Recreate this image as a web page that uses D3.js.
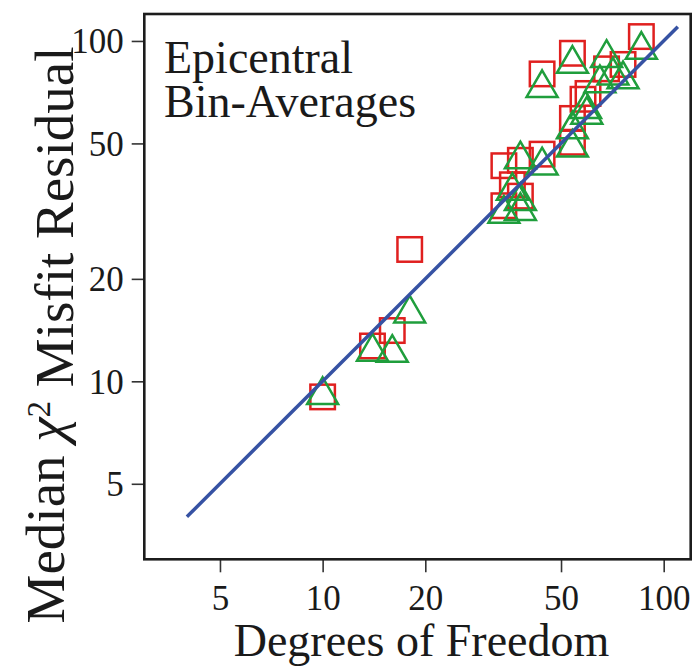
<!DOCTYPE html>
<html>
<head>
<meta charset="utf-8">
<script src="https://cdn.jsdelivr.net/npm/d3@7"></script>
<style>
  html, body { margin: 0; padding: 0; background: #fff; }
  svg { display: block; }
</style>
</head>
<body>
<svg id="chart" width="698" height="672"></svg>
<script>
// Tick values shared by both log axes
const tickValues = [5, 10, 20, 50, 100];

// Bin-averages: degrees of freedom and median chi-square misfit (squares)
const squareDf  = [10, 14, 16, 18, 34, 34, 36, 38, 38, 44, 44, 54, 54, 54, 58, 60, 68, 76, 86];
const squareChi = [9.0, 12.7, 14.1, 24.4, 43, 32.8, 37.8, 44.6, 35, 46.5, 80, 92, 59.2, 50.4, 67.4, 70.1, 82.8, 85.3, 103];

// Bin-averages: degrees of freedom and median chi-square misfit (triangles)
const triangleDf  = [10, 14, 16, 18, 34, 36, 38, 38, 38, 44, 44, 54, 54, 54, 59, 59.5, 65, 68, 71, 76, 86];
const triangleChi = [9.1, 12.2, 12.1, 15.8, 31, 36.2, 44.8, 33.8, 31.6, 43, 72.6, 85.5, 54.9, 48.5, 63, 60.6, 75, 89, 79, 77, 94];

// One-to-one reference line (misfit equals degrees of freedom)
const refLine = [4, 110];

const colors = { square: "#e0201f", triangle: "#1f9e3c", line: "#3652a3", frame: "#1c1c1c" };

const W = 698, H = 672;
const margin = { left: 144.3, right: 7.3, top: 14, bottom: 112.7 };
const serif = "'Liberation Serif', 'Times New Roman', serif";

const svg = d3.select("#chart");

const x = d3.scaleLog().domain([3, 120]).range([margin.left, W - margin.right]);
const y = d3.scaleLog().domain([3, 120]).range([H - margin.bottom, margin.top]);

// Axes
const xAxis = d3.axisBottom(x).tickValues(tickValues).tickFormat(d3.format("d"))
  .tickSize(13).tickPadding(13);
const yAxis = d3.axisLeft(y).tickValues(tickValues).tickFormat(d3.format("d"))
  .tickSize(12.6).tickPadding(8);

const gx = svg.append("g").attr("transform", `translate(0,${y.range()[0]})`).call(xAxis);
const gy = svg.append("g").attr("transform", `translate(${x.range()[0]},0)`).call(yAxis);

[gx, gy].forEach(g => {
  g.select(".domain").remove();
  g.selectAll(".tick line").attr("stroke", "#333").attr("stroke-width", 1.6);
  g.selectAll(".tick text").attr("fill", "#1a1a1a")
    .style("font-family", serif).style("font-size", "35px");
});
gx.selectAll(".tick text").attr("dy", "0.72em");
gy.selectAll(".tick text").attr("dy", "0.34em");

// Markers
const sq = 24.5;
svg.append("g").selectAll("rect")
  .data(squareDf.map((d, i) => [d, squareChi[i]]))
  .join("rect")
  .attr("x", d => x(d[0]) - sq / 2)
  .attr("y", d => y(d[1]) - sq / 2)
  .attr("width", sq).attr("height", sq)
  .attr("fill", "none")
  .attr("stroke", colors.square)
  .attr("stroke-width", 2.5);

const tri = "M0,-18L15.5,8.7L-15.5,8.7Z";
svg.append("g").selectAll("path")
  .data(triangleDf.map((d, i) => [d, triangleChi[i]]))
  .join("path")
  .attr("d", tri)
  .attr("transform", d => `translate(${x(d[0])},${y(d[1])})`)
  .attr("fill", "none")
  .attr("stroke", colors.triangle)
  .attr("stroke-width", 2.5)
  .attr("stroke-linejoin", "miter");

// Reference line
svg.append("line")
  .attr("x1", x(refLine[0])).attr("y1", y(refLine[0]))
  .attr("x2", x(refLine[1])).attr("y2", y(refLine[1]))
  .attr("stroke", colors.line)
  .attr("stroke-width", 3.5);

// Plot frame
svg.append("rect")
  .attr("x", x.range()[0]).attr("y", y.range()[1])
  .attr("width", x.range()[1] - x.range()[0])
  .attr("height", y.range()[0] - y.range()[1])
  .attr("fill", "none")
  .attr("stroke", colors.frame)
  .attr("stroke-width", 2.6);

// Panel label
const label = svg.append("text")
  .style("font-family", serif).style("font-size", "46px").attr("fill", "#1a1a1a");
label.append("tspan").attr("x", 164).attr("y", 73).text("Epicentral");
label.append("tspan").attr("x", 164).attr("y", 117).text("Bin-Averages");

// Axis titles
svg.append("text")
  .attr("x", (x.range()[0] + x.range()[1]) / 2 + 4)
  .attr("y", 656)
  .attr("text-anchor", "middle")
  .style("font-family", serif).style("font-size", "46px").attr("fill", "#1a1a1a")
  .text("Degrees of Freedom");

const yt = svg.append("text")
  .attr("transform", `translate(64,335) rotate(-90)`)
  .attr("text-anchor", "middle")
  .style("font-family", serif).style("font-size", "55px").attr("fill", "#1a1a1a");
yt.append("tspan").text("Median ");
yt.append("tspan").style("font-style", "italic").text("χ");
yt.append("tspan").attr("dy", "-0.42em").style("font-size", "33px").text("2");
yt.append("tspan").attr("dy", "0.42em").text(" Misfit Residual");
</script>
</body>
</html>
